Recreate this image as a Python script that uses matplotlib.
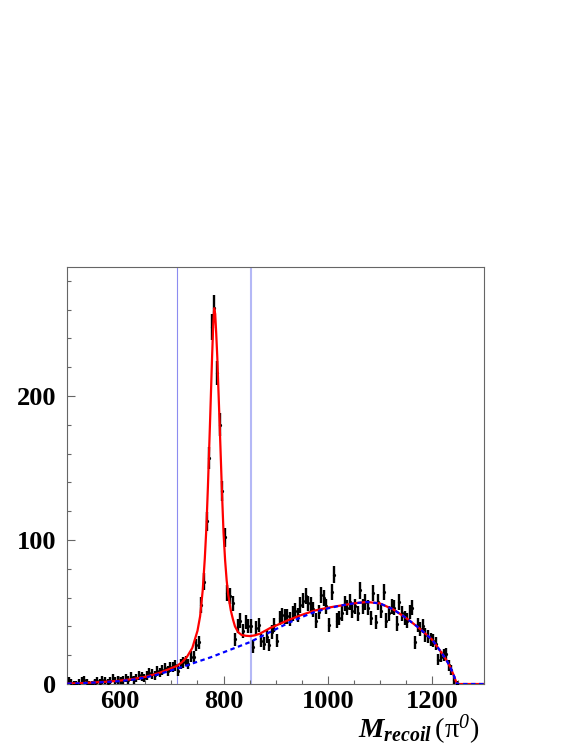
# Recoil mass spectrum against a pi0 with the fit overlaid
# Histogram points with error bars, total fit (red) and background (blue dashed)
import numpy as np
import matplotlib.pyplot as plt
from matplotlib.ticker import MultipleLocator

# Histogram: 5 MeV bins from 500 to 1250 (bins above 1250 are empty)
BinWidth = 5
BinLow = 500
BinHigh = 1250
counts = [
    2, 1, 0, 0, 1, 2, 3, 1, 0, 0,            # 500-550
    1, 2, 1, 3, 2, 1, 2, 4, 2, 3,            # 550-600
    2, 3, 4, 3, 5, 3, 4, 6, 5, 4,            # 600-650
    6, 8, 7, 6, 9, 8, 10, 11, 9, 12,         # 650-700
    12, 13, 9, 14, 15, 16, 14, 19, 19, 27,   # 700-750
    29, 55, 71, 113, 157, 248, 261, 216, 180, 134,  # 750-800
    102, 63, 61, 56, 31, 40, 44, 37, 43, 40,  # 800-850
    40, 26, 39, 41, 30, 28, 33, 27, 36, 41,   # 850-900
    30, 46, 48, 47, 47, 45, 49, 51, 48, 55,   # 900-950
    58, 61, 56, 55, 52, 44, 50, 62, 60, 54,   # 950-1000
    41, 64, 76, 44, 46, 49, 56, 53, 57, 51,   # 1000-1050
    54, 49, 65, 54, 57, 53, 46, 63, 43, 57,   # 1050-1100
    51, 64, 44, 49, 54, 53, 42, 57, 49, 46,   # 1100-1150
    44, 50, 53, 29, 41, 38, 40, 34, 33, 31,   # 1150-1200
    30, 28, 17, 19, 20, 21, 13, 10, 3, 0,     # 1200-1250
]

# Background fit
bkg_mass = [500, 525, 550, 575, 600, 625, 650, 675, 700, 725, 750, 775, 800,
            825, 850, 875, 900, 925, 950, 975, 1000, 1025, 1050, 1075, 1100,
            1125, 1150, 1175, 1200, 1212, 1220, 1228, 1235, 1242, 1248, 1300]
bkg_value = [0.3, 0.5, 1.0, 1.4, 2.0, 3.0, 4.5, 6.7, 9.5, 12.3, 15.5, 18.5, 22,
             25.5, 29, 33.5, 38, 42.5, 46.5, 50, 52.5, 54.5, 56, 57, 56,
             52, 46, 39, 31, 25, 21, 16.5, 12, 6, 0, 0]

# Total fit (signal + background)
total_mass = [500, 525, 550, 575, 600, 625, 650, 675, 700, 710, 720, 730, 740,
              745, 750, 755, 760, 764, 767, 770, 774, 778, 780, 782, 784, 786,
              788, 790, 792, 794, 797, 800, 803, 806, 809, 814, 818, 822, 828,
              835, 843, 851, 860, 870, 880, 890, 900, 925, 950, 975, 1000,
              1025, 1050, 1075, 1100, 1125, 1150, 1175, 1200, 1212, 1220, 1228,
              1235, 1242, 1248, 1300]
total_value = [0.3, 0.6, 1.1, 1.6, 2.3, 3.4, 5.0, 7.5, 11, 12.5, 15, 19, 25,
               31, 37, 47, 65, 87, 108, 137, 181, 227, 248, 261, 257, 243,
               227, 206, 186, 165, 133, 105, 86, 72, 62, 51, 45, 40, 36,
               34, 33.5, 33.3, 33.8, 35, 37, 39, 40.5, 44.5, 48, 51, 53,
               54.5, 56, 57, 56, 52, 46, 39, 31, 25, 21, 16.5,
               12, 6, 0, 0]

# Signal window cut lines
window_low = 711
window_high = 852

# Figure is 581x752 pixels
fig = plt.figure(figsize=(5.81, 7.52), dpi=100)
ax = fig.add_axes([0.1158, 0.0904, 0.7172, 0.5543])

bin_centers = np.arange(BinLow + BinWidth / 2, BinHigh, BinWidth)
counts = np.array(counts, dtype=float)
# Error bars in the plot grow slower than sqrt(N) (weighted entries),
# roughly 0.45*sqrt(N) plus a constant part
errors = 0.45 * np.sqrt(counts) + 2.0

# Window lines go underneath everything
ax.axvline(window_low, color="#8c8cf0", linewidth=0.8, zorder=1)
ax.axvline(window_high, color="#b4b8f6", linewidth=1.5, zorder=1)

ax.errorbar(bin_centers, counts, yerr=errors, fmt="o", markersize=1.3,
            color="black", ecolor="black", elinewidth=1.7, capsize=0, zorder=3)

ax.plot(total_mass, total_value, color="red", linewidth=1.6, zorder=4)
ax.plot(bkg_mass, bkg_value, color="blue", linewidth=1.6,
        linestyle=(0, (2, 1.6)), zorder=5)

ax.set_xlim(500, 1300)
ax.set_ylim(0, 289.5)

# Axis frame and ticks like a ROOT canvas
for side in ax.spines.values():
    side.set_color("#666666")
    side.set_linewidth(0.8)

ax.xaxis.set_major_locator(MultipleLocator(200))
ax.xaxis.set_minor_locator(MultipleLocator(50))
ax.yaxis.set_major_locator(MultipleLocator(100))
ax.yaxis.set_minor_locator(MultipleLocator(20))
ax.tick_params(which="both", direction="in", colors="#666666",
               top=False, right=False, width=0.8)
ax.tick_params(which="major", length=5.5)
ax.tick_params(which="minor", length=3)
ax.tick_params(axis="x", which="major", pad=4)
ax.tick_params(axis="y", which="major", pad=8)

for label in ax.get_xticklabels() + ax.get_yticklabels():
    label.set_fontfamily("Liberation Serif")
    label.set_fontweight("bold")
    label.set_fontsize(19)
    label.set_color("black")

# Axis title with mathtext in a Times-like font
# (\mathcal is pointed at the italic face so the superscript 0 comes out slanted)
plt.rcParams["mathtext.fontset"] = "custom"
plt.rcParams["mathtext.rm"] = "Liberation Serif"
plt.rcParams["mathtext.it"] = "Liberation Serif:italic:bold"
plt.rcParams["mathtext.bf"] = "Liberation Serif:bold"
plt.rcParams["mathtext.cal"] = "Liberation Serif:italic"
fig.text(0.825, 0.019, r"$M_{recoil}\,\mathrm{(\pi}^{\mathcal{0}}\mathrm{)}$",
         fontsize=20.5, ha="right", va="baseline")

fig.savefig("out.png", dpi=100)
